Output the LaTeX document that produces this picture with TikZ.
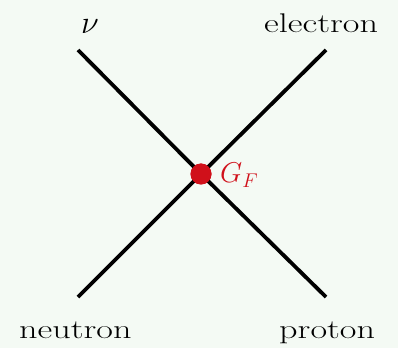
\documentclass[tikz,border=0pt]{standalone}
\usepackage{fontspec}
\usepackage{graphicx}
\definecolor{bg}{HTML}{F4FAF4}
\definecolor{dotred}{HTML}{D0101A}
\newcommand{\widetext}[1]{\scalebox{1.34}[1]{#1}}
\begin{document}
\begin{tikzpicture}[x=1pt,y=1pt,
  lbl/.style={anchor=base west,inner sep=0pt,font=\fontsize{27}{32}\selectfont},
  leg/.style={line width=3.8pt,black},
  vertex/.style={circle,fill=dotred,minimum size=21pt,inner sep=0pt}]
\fill[bg] (0,0) rectangle (398,348);
\useasboundingbox (0,0) rectangle (398,348);
\coordinate (tl) at (78,298);
\coordinate (tr) at (326,298);
\coordinate (bl) at (78,51);
\coordinate (br) at (326,51);
\node[vertex] (v) at (201,174) {};
\draw[leg] (tl) -- (v.center) -- (br);
\draw[leg] (tr) -- (v.center) -- (bl);
\node[vertex] at (v) {};
\node[lbl] (nu) at (81,314) {\scalebox{1.3}{$\nu$}};
\node[lbl] (el) at (264,315) {\widetext{electron}};
\node[lbl] (ne) at (19,10) {\widetext{neutron}};
\node[lbl] (pr) at (279,10) {\widetext{proton}};
\node[lbl,text=dotred] (gf) at (220,165) {\scalebox{1.15}{$G_F$}};
\end{tikzpicture}
\end{document}
